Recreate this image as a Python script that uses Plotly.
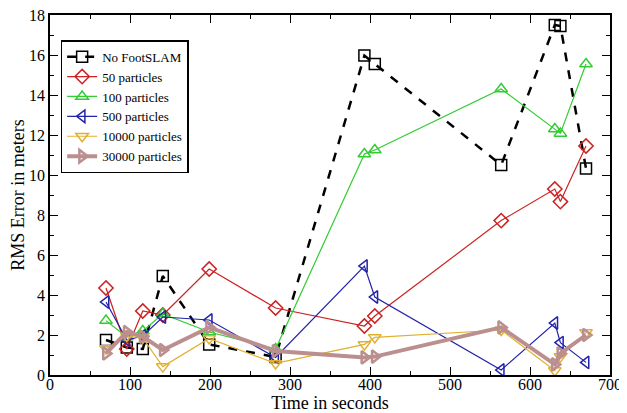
import plotly.graph_objects as go

times = [70, 96, 116, 141, 199, 282, 393, 406, 564, 631, 638, 670]

no_footslam = [1.75, 1.38, 1.3, 4.95, 1.53, 0.9, 15.97, 15.55, 10.5, 17.5, 17.45, 10.33]
p50 = [4.35, 1.3, 3.2, 3.0, 5.3, 3.35, 2.45, 2.95, 7.72, 9.3, 8.67, 11.45]
p100 = [2.72, 1.9, 2.2, 3.05, 2.15, 1.3, 11.05, 11.25, 14.3, 12.3, 12.08, 15.55]
p500 = [3.65, 1.75, 1.95, 2.9, 2.75, 0.88, 5.45, 3.9, 0.25, 2.6, 1.62, 0.63]
p10000 = [1.33, 1.95, 1.85, 0.42, 1.83, 0.58, 1.53, 1.88, 2.25, 0.22, 0.92, 2.12]
p30000 = [1.08, 2.15, 1.92, 1.25, 2.38, 1.2, 0.88, 0.92, 2.38, 0.53, 1.08, 2.0]

series = [
    ("No FootSLAM", no_footslam, "black", "square-open", 2.5, "dash"),
    ("50 particles", p50, "#cc2222", "diamond-open", 1.2, "solid"),
    ("100 particles", p100, "#33cc33", "triangle-up-open", 1.2, "solid"),
    ("500 particles", p500, "#2222aa", "triangle-left-open", 1.2, "solid"),
    ("10000 particles", p10000, "#e0b030", "triangle-down-open", 1.2, "solid"),
    ("30000 particles", p30000, "#bc8f8f", "triangle-right-open", 4, "solid"),
]

fig = go.Figure()
for name, ys, color, sym, lw, dash in series:
    fig.add_trace(go.Scatter(
        x=times, y=ys, name=name, mode="lines+markers",
        line=dict(color=color, width=lw, dash=dash),
        marker=dict(symbol=sym, size=11, color=color,
                    line=dict(color=color, width=1.5 if lw < 3 else 2.5)),
    ))

axis_common = dict(
    showline=True, linecolor="black", linewidth=1.5, mirror="ticks",
    ticks="inside", ticklen=8, tickwidth=1, tickcolor="black",
    showgrid=False, zeroline=False, automargin=False,
    ticklabeloverflow="allow",
    tickfont=dict(family="Liberation Serif", size=16, color="black"),
    title_font=dict(family="Liberation Serif", size=18, color="black"),
)

fig.update_xaxes(range=[0, 700], dtick=100, tick0=0, ticklabelstandoff=-6,
                 minor=dict(ticks="inside", ticklen=4, dtick=50, tickcolor="black"),
                 title_text="Time in seconds", title_standoff=8, **axis_common)
fig.update_yaxes(range=[0, 18], dtick=2, tick0=0, ticklabelstandoff=0,
                 minor=dict(ticks="inside", ticklen=4, dtick=1, tickcolor="black"),
                 title_text="RMS Error in meters", title_standoff=6, **axis_common)

# page body has an 8px margin, so the figure is drawn offset by (8, 8)
fig.update_layout(
    width=619, height=405,
    margin=dict(l=42, r=17, t=7, b=38),
    plot_bgcolor="white", paper_bgcolor="white",
    font=dict(family="Liberation Serif", color="black"),
    legend=dict(x=0.019, y=0.93, xanchor="left", yanchor="top",
                bgcolor="white", bordercolor="black", borderwidth=1.5,
                font=dict(family="Liberation Serif", size=13, color="black"),
                tracegroupgap=0, itemwidth=30),
    showlegend=True,
)

fig.write_html("out.html")
